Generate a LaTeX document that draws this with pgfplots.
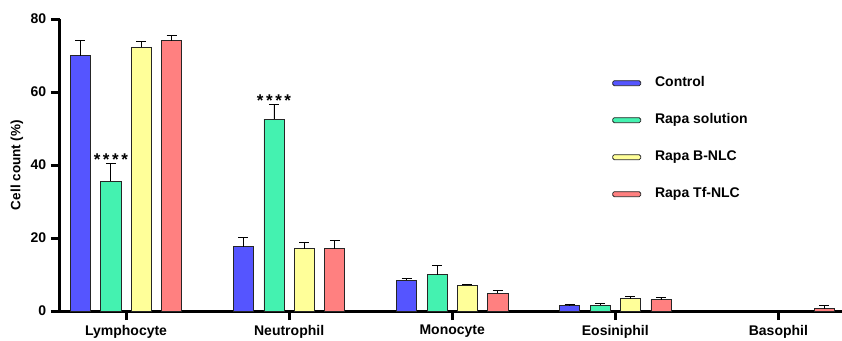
\documentclass[border=0pt]{standalone}
\usepackage{fontspec}
\setmainfont{Liberation Sans}
\usepackage{pgfplots}
\pgfplotsset{compat=1.18}
\definecolor{cblue}{RGB}{85,85,255}
\definecolor{cgreen}{RGB}{68,242,176}
\definecolor{cyellow}{RGB}{255,255,153}
\definecolor{cred}{RGB}{255,128,128}
\begin{document}
\fontsize{14}{16}\selectfont
\begin{tikzpicture}
\path[use as bounding box] (-60pt,-29pt) rectangle (782pt,311pt);
\begin{axis}[
  at={(0,0)}, anchor=south west,
  scale only axis, width=782pt, height=292pt,
  xmin=-0.405, xmax=4.39, ymin=0, ymax=80,
  axis x line=bottom, axis y line=left, axis line style={-, line width=3pt},
  ybar, bar width=0.123,
  xtick={0,1,2,3,4},
  xticklabels={Lymphocyte,Neutrophil,Monocyte,Eosiniphil,Basophil},
  ytick={0,20,40,60,80},
  tick align=outside,
  major tick length=9pt,
  tick style={line width=3pt, black},
  ticklabel style={font=\fontsize{14}{16}\selectfont\bfseries},
  /pgf/number format/assume math mode=true,
  ylabel={Cell count (\%)},
  ylabel style={at={(axis description cs:-0.055,0.5)}, anchor=center, font=\fontsize{13.5}{16}\selectfont\bfseries},
  every axis plot/.append style={draw=black!85, line width=0.8pt},
  error bars/y dir=plus, error bars/y explicit,
  error bars/error bar style={line width=0.8pt, black},
  error bars/error mark options={rotate=90, mark size=5pt, line width=0.8pt, black},
  legend image code/.code={\draw[#1,rounded corners=1.5pt,line width=0.8pt] (0pt,-2.5pt) rectangle (28pt,2.5pt);},
  legend style={at={(axis description cs:0.706,0.803)}, anchor=north west, draw=none, fill=none,
    inner sep=0pt, row sep=24pt, column sep=14pt,
    nodes={inner sep=0pt, text height=10pt, text depth=3pt, anchor=west, font=\fontsize{14}{16}\selectfont\bfseries}},
  clip=false,
]
\addplot[fill=cblue, bar shift=-0.28] coordinates {
  (0,69.9) +- (0,4.3)
  (1,17.6) +- (0,2.5)
  (2,8.4) +- (0,0.4)
  (3,1.4) +- (0,0.3)
};
\addlegendentry{Control}
\addplot[fill=cgreen, bar shift=-0.093] coordinates {
  (0,35.6) +- (0,4.9)
  (1,52.6) +- (0,4.1)
  (2,10.0) +- (0,2.4)
  (3,1.6) +- (0,0.5)
};
\addlegendentry{Rapa solution}
\addplot[fill=cyellow, bar shift=0.093] coordinates {
  (0,72.2) +- (0,1.7)
  (1,17.1) +- (0,1.7)
  (2,7.0) +- (0,0.3)
  (3,3.4) +- (0,0.5)
};
\addlegendentry{Rapa B-NLC}
\addplot[fill=cred, bar shift=0.28] coordinates {
  (0,74.1) +- (0,1.3)
  (1,17.1) +- (0,2.2)
  (2,4.9) +- (0,0.8)
  (3,3.1) +- (0,0.6)
  (4,0.6) +- (0,0.8)
};
\addlegendentry{Rapa Tf-NLC}
\pgfplotsinvokeforeach{0,1,2,3,4}{\draw[line width=3pt, black] (axis cs:#1,0) -- ++(0pt,-9pt);}
\pgfplotsinvokeforeach{0,20,40,60,80}{\draw[line width=3pt, black] (axis cs:-0.405,#1) -- ++(-9pt,0pt);}
\node[anchor=base, inner sep=0pt, font=\fontsize{17}{17}\selectfont\bfseries] at (axis cs:-0.093,40.0) {*\kern2.6pt*\kern2.6pt*\kern2.6pt*};
\node[anchor=base, inner sep=0pt, font=\fontsize{17}{17}\selectfont\bfseries] at (axis cs:0.907,56.0) {*\kern2.6pt*\kern2.6pt*\kern2.6pt*};
\end{axis}
\end{tikzpicture}
\end{document}
